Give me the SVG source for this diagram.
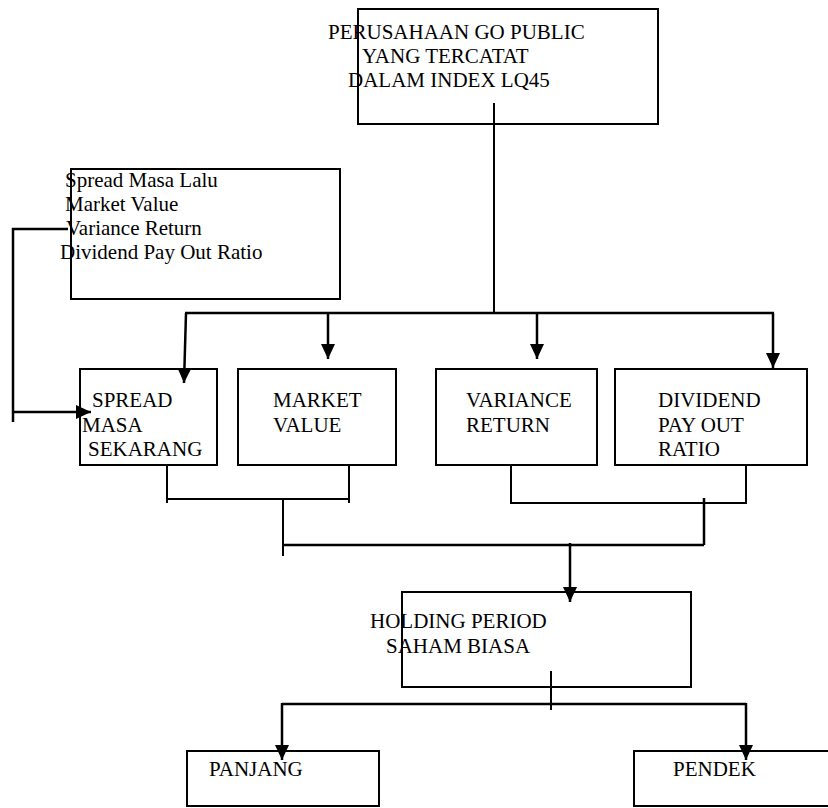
<svg xmlns="http://www.w3.org/2000/svg" width="828" height="808" viewBox="0 0 828 808">
<style>
.box{fill:none;stroke:#000;stroke-width:2}
.t{font-family:"Liberation Serif","Times New Roman",serif;font-size:21px;fill:#000}
.c{fill:none;stroke:#000;stroke-width:2}
.a{fill:none;stroke:#000;stroke-width:2.5}
</style>
<defs>
<marker id="ah" markerUnits="userSpaceOnUse" markerWidth="16" markerHeight="16" refX="15" refY="7" orient="auto" viewBox="0 0 16 14">
<path d="M0,0 L15,7 L0,14 z" fill="#000"/>
</marker>
</defs>
<rect width="828" height="808" fill="#fff"/>
<g id="connectors">
<line class="c" x1="494" y1="103" x2="494" y2="313"/>
<line class="a" x1="185" y1="313" x2="774" y2="313"/>
<line class="a" x1="186" y1="313" x2="184" y2="383" marker-end="url(#ah)"/>
<line class="a" x1="328" y1="313" x2="328" y2="359" marker-end="url(#ah)"/>
<line class="a" x1="537" y1="313" x2="537" y2="359" marker-end="url(#ah)"/>
<line class="a" x1="773" y1="313" x2="773" y2="368" marker-end="url(#ah)"/>
<polyline class="a" points="68,229 13,229 13,422"/>
<line class="a" x1="13" y1="412" x2="91" y2="412" marker-end="url(#ah)"/>
<line class="c" x1="167" y1="465" x2="167" y2="503"/>
<line class="c" x1="349" y1="465" x2="349" y2="503"/>
<line class="c" x1="167" y1="499" x2="349" y2="499"/>
<line class="c" x1="283" y1="499" x2="283" y2="556"/>
<polyline class="c" points="511,465 511,503 746,503 746,465"/>
<line class="a" x1="704" y1="498" x2="704" y2="545"/>
<line class="a" x1="283" y1="545" x2="704" y2="545"/>
<line class="a" x1="570" y1="543" x2="570" y2="602" marker-end="url(#ah)"/>
<line class="c" x1="551" y1="671" x2="551" y2="710"/>
<line class="a" x1="282" y1="704" x2="746" y2="704"/>
<line class="a" x1="282" y1="703" x2="282" y2="760" marker-end="url(#ah)"/>
<line class="a" x1="746" y1="703" x2="746" y2="760" marker-end="url(#ah)"/>
</g>
<g id="perusahaan">
<rect class="box" x="358" y="9" width="300" height="115"/>
<text class="t" x="328" y="39">PERUSAHAAN GO PUBLIC</text>
<text class="t" x="362" y="63">YANG TERCATAT</text>
<text class="t" x="348" y="87">DALAM INDEX LQ45</text>
</g>
<g id="masalalu">
<rect class="box" x="71" y="169" width="269" height="130"/>
<text class="t" x="65" y="187">Spread Masa Lalu</text>
<text class="t" x="65" y="211">Market Value</text>
<text class="t" x="66" y="235">Variance Return</text>
<text class="t" x="60" y="259">Dividend Pay Out Ratio</text>
</g>
<g id="spread">
<rect class="box" x="80" y="369" width="137" height="96"/>
<text class="t" x="92" y="407">SPREAD</text>
<text class="t" x="82" y="432">MASA</text>
<text class="t" x="88" y="456">SEKARANG</text>
</g>
<g id="market">
<rect class="box" x="238" y="369" width="158" height="96"/>
<text class="t" x="273" y="407">MARKET</text>
<text class="t" x="273" y="432">VALUE</text>
</g>
<g id="variance">
<rect class="box" x="436" y="369" width="161" height="96"/>
<text class="t" x="466" y="407">VARIANCE</text>
<text class="t" x="466" y="432">RETURN</text>
</g>
<g id="dividend">
<rect class="box" x="615" y="369" width="192" height="96"/>
<text class="t" x="658" y="407">DIVIDEND</text>
<text class="t" x="658" y="432">PAY OUT</text>
<text class="t" x="658" y="456">RATIO</text>
</g>
<g id="holding">
<rect class="box" x="402" y="592" width="289" height="95"/>
<text class="t" x="370" y="628">HOLDING PERIOD</text>
<text class="t" x="386" y="653">SAHAM BIASA</text>
</g>
<g id="panjang">
<rect class="box" x="187" y="751" width="192" height="55"/>
<text class="t" x="209" y="776">PANJANG</text>
</g>
<g id="pendek">
<rect class="box" x="634" y="751" width="200" height="55"/>
<text class="t" x="673" y="776">PENDEK</text>
</g>
</svg>
